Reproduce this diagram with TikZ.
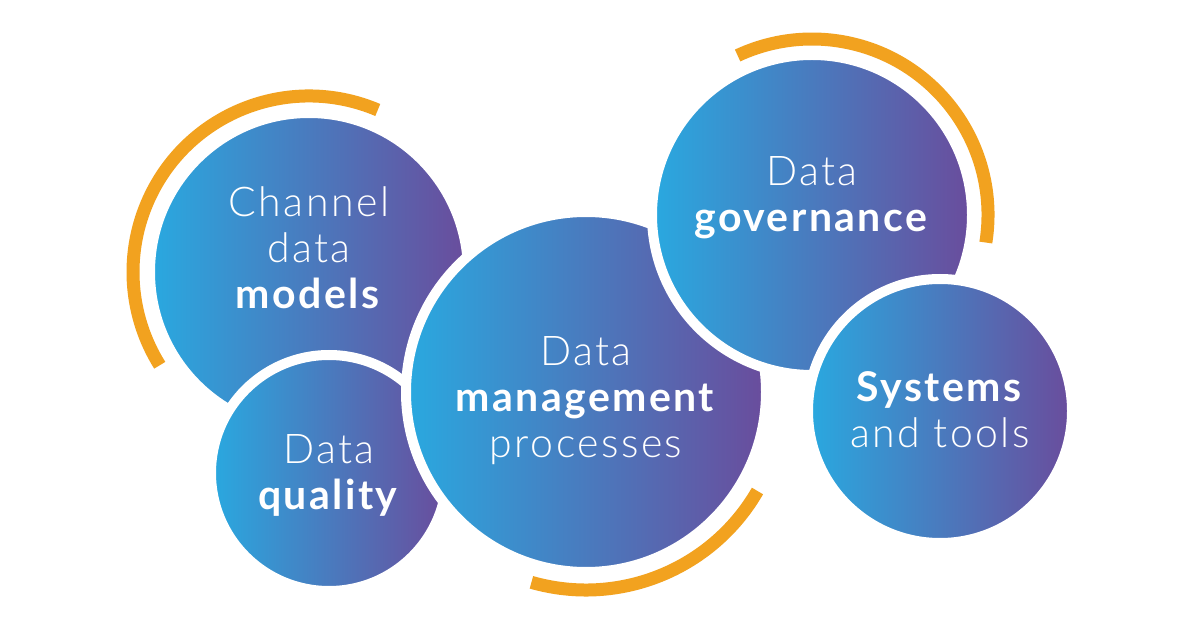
\documentclass[tikz,border=0pt]{standalone}
\usepackage{fontspec}
\setmainfont{Lato}[UprightFont=* Light,BoldFont=* Bold,LetterSpace=6]
\definecolor{bubblecyan}{HTML}{29A9E0}
\definecolor{bubblepurple}{HTML}{6A4C9C}
\definecolor{ringorange}{HTML}{F2A21F}

\begin{document}
\begin{tikzpicture}[x=1pt,y=1pt,
    bubble/.style={circle,draw=white,line width=10pt,inner sep=0pt,
                   left color=bubblecyan,right color=bubblepurple},
    bubble text/.style={align=center,text=white,font=\fontsize{41}{46}\selectfont},
    ring/.style={draw=ringorange,line width=13pt}]
  \useasboundingbox[fill=white] (0,0) rectangle (1200,630);
  % bubbles, back to front
  \node[bubble,minimum size=318pt] (chan) at (309,358) {};
  \node[bubble,minimum size=236pt] (qual) at (329,157) {};
  \node[bubble,minimum size=360pt] (mgmt) at (586,238) {};
  \node[bubble,minimum size=320pt] (gov)  at (812,415) {};
  \node[bubble,minimum size=264pt] (sys)  at (940,219) {};
  % orange rings
  \draw[ring] ([shift={(67:176)}]chan.center) arc[start angle=67,end angle=212,radius=176];
  \draw[ring] ([shift={(-9:176)}]gov.center) arc[start angle=-9,end angle=115,radius=176];
  \draw[ring] ([shift={(-106:198)}]mgmt.center) arc[start angle=-106,end angle=-30,radius=198];
  % labels
  \node[bubble text] (chan text) at ([yshift=24pt]chan.center) {Channel\\data\\\textbf{models}};
  \node[bubble text] (qual text) at ([yshift=-2pt]qual.center) {Data\\\textbf{quality}};
  \node[bubble text] (mgmt text) at ([yshift=-9pt]mgmt.center) {Data\\\textbf{management}\\processes};
  \node[bubble text] (gov text)  at ([yshift=17pt]gov.center) {Data\\\textbf{governance}};
  \node[bubble text] (sys text)  at ([yshift=1pt]sys.center) {\textbf{Systems}\\and tools};
\end{tikzpicture}
\end{document}
